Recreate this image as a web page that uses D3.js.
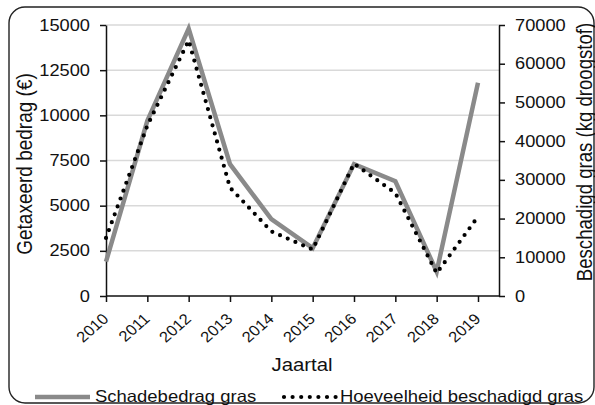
<!DOCTYPE html>
<html>
<head>
<meta charset="utf-8">
<script src="https://cdn.jsdelivr.net/npm/d3@7"></script>
<style>
  html, body { margin: 0; padding: 0; background: #fff; }
  svg { display: block; font-family: "Liberation Sans", Arial, sans-serif; }
</style>
</head>
<body>
<svg id="chart" width="595" height="405"></svg>
<script>
// ---- data ----
const years = ["2010","2011","2012","2013","2014","2015","2016","2017","2018","2019"];
const schadebedrag = [1900, 9700, 14800, 7300, 4250, 2650, 7300, 6350, 1350, 11800];   // € (left axis)
const hoeveelheid = [15000, 44000, 66000, 28000, 16700, 12000, 34200, 26600, 5900, 20500]; // kg droogstof (right axis)
const leftTicks = [0, 2500, 5000, 7500, 10000, 12500, 15000];
const rightTicks = [0, 10000, 20000, 30000, 40000, 50000, 60000, 70000];
const seriesNames = ["Schadebedrag gras", "Hoeveelheid beschadigd gras"];
const xTitle = "Jaartal";
const yLeftTitle = "Getaxeerd bedrag (€)";
const yRightTitle = "Beschadigd gras (kg droogstof)";

// ---- layout ----
const svg = d3.select("#chart");
const plot = { left: 106, right: 499, top: 25, bottom: 296 };
const lastX = 478;
const SX = 1.14; // horizontal stretch of the original picture's text

const x = d3.scalePoint().domain(years).range([plot.left, lastX]);
const yL = d3.scaleLinear().domain([0, 15000]).range([plot.bottom, plot.top]);
const yR = d3.scaleLinear().domain([0, 70000]).range([plot.bottom, plot.top]);

// border
svg.append("rect")
  .attr("x", 9).attr("y", 7).attr("width", 585).attr("height", 396)
  .attr("rx", 16).attr("ry", 16)
  .attr("fill", "none").attr("stroke", "#222").attr("stroke-width", 1.4);

// gridlines
svg.append("g").selectAll("line").data(leftTicks.filter(d => d > 0)).join("line")
  .attr("x1", plot.left).attr("x2", plot.right)
  .attr("y1", d => yL(d)).attr("y2", d => yL(d))
  .attr("stroke", "#d9d9d9").attr("stroke-width", 1.5);

function stretchTexts(g, s) {
  g.selectAll("text").each(function () {
    const t = d3.select(this);
    const tx = +t.attr("x") || 0;
    t.attr("x", 0).attr("transform", `translate(${tx},0) scale(${s},1)`);
  });
}

// left axis
const gL = svg.append("g").attr("transform", `translate(${plot.left},0)`)
  .call(d3.axisLeft(yL).tickValues(leftTicks).tickFormat(d3.format("d")).tickSize(6).tickPadding(10).tickSizeOuter(0));
gL.selectAll("text").attr("font-size", 16).attr("fill", "#111").attr("font-family", "Liberation Sans, Arial, sans-serif");
stretchTexts(gL, SX);

// right axis
const gR = svg.append("g").attr("transform", `translate(${plot.right},0)`)
  .call(d3.axisRight(yR).tickValues(rightTicks).tickFormat(d3.format("d")).tickSize(6).tickPadding(10).tickSizeOuter(0));
gR.selectAll("text").attr("font-size", 16).attr("fill", "#111").attr("font-family", "Liberation Sans, Arial, sans-serif");
stretchTexts(gR, SX);

// x axis
const gX = svg.append("g").attr("transform", `translate(0,${plot.bottom})`)
  .call(d3.axisBottom(x).tickSize(6).tickSizeOuter(0).tickFormat(""));
gX.select(".domain").attr("d", `M${plot.left},0H${plot.right}`);
gX.selectAll(".tick").append("text")
  .attr("fill", "#111")
  .attr("font-size", 15)
  .attr("font-family", "Liberation Sans, Arial, sans-serif")
  .attr("text-anchor", "end")
  .attr("transform", `translate(3,24) scale(1.1,1) rotate(-44)`)
  .text(d => d);

[gL, gR, gX].forEach(g => {
  g.selectAll(".domain, .tick line").attr("stroke", "#111").attr("stroke-width", 1.5);
});

// lines
const lineL = d3.line().x((d, i) => x(years[i])).y(d => yL(d));
const lineR = d3.line().x((d, i) => x(years[i])).y(d => yR(d));

svg.append("path").datum(schadebedrag)
  .attr("d", lineL).attr("fill", "none")
  .attr("stroke", "#8a8a8a").attr("stroke-width", 4.5).attr("stroke-linejoin", "miter");

svg.append("path").datum(hoeveelheid)
  .attr("d", lineR).attr("fill", "none")
  .attr("stroke", "#000").attr("stroke-width", 4.2)
  .attr("stroke-linecap", "round").attr("stroke-dasharray", "0 8.4");

// axis titles
svg.append("text").text(xTitle)
  .attr("text-anchor", "middle").attr("font-size", 18.5).attr("fill", "#111")
  .attr("transform", `translate(302,371) scale(1.1,1)`);

svg.append("text").text(yLeftTitle)
  .attr("text-anchor", "middle").attr("font-size", 19).attr("fill", "#111")
  .attr("transform", `translate(32,164) scale(${SX},1) rotate(-90)`);

svg.append("text").text(yRightTitle)
  .attr("text-anchor", "middle").attr("font-size", 18.6).attr("fill", "#111")
  .attr("transform", `translate(592,152) scale(${SX},1) rotate(-90)`);

// legend
const lg = svg.append("g");
lg.append("line").attr("x1", 35).attr("x2", 90).attr("y1", 397).attr("y2", 397)
  .attr("stroke", "#8a8a8a").attr("stroke-width", 4.5);
lg.append("text").text(seriesNames[0]).attr("font-size", 16.5).attr("fill", "#111")
  .attr("transform", `translate(95,402) scale(1.12,1)`);
lg.append("line").attr("x1", 284).attr("x2", 336).attr("y1", 397).attr("y2", 397)
  .attr("stroke", "#000").attr("stroke-width", 4.2)
  .attr("stroke-linecap", "round").attr("stroke-dasharray", "0 8.6");
lg.append("text").text(seriesNames[1]).attr("font-size", 16.5).attr("fill", "#111")
  .attr("transform", `translate(340,402) scale(1.12,1)`);
</script>
</body>
</html>
